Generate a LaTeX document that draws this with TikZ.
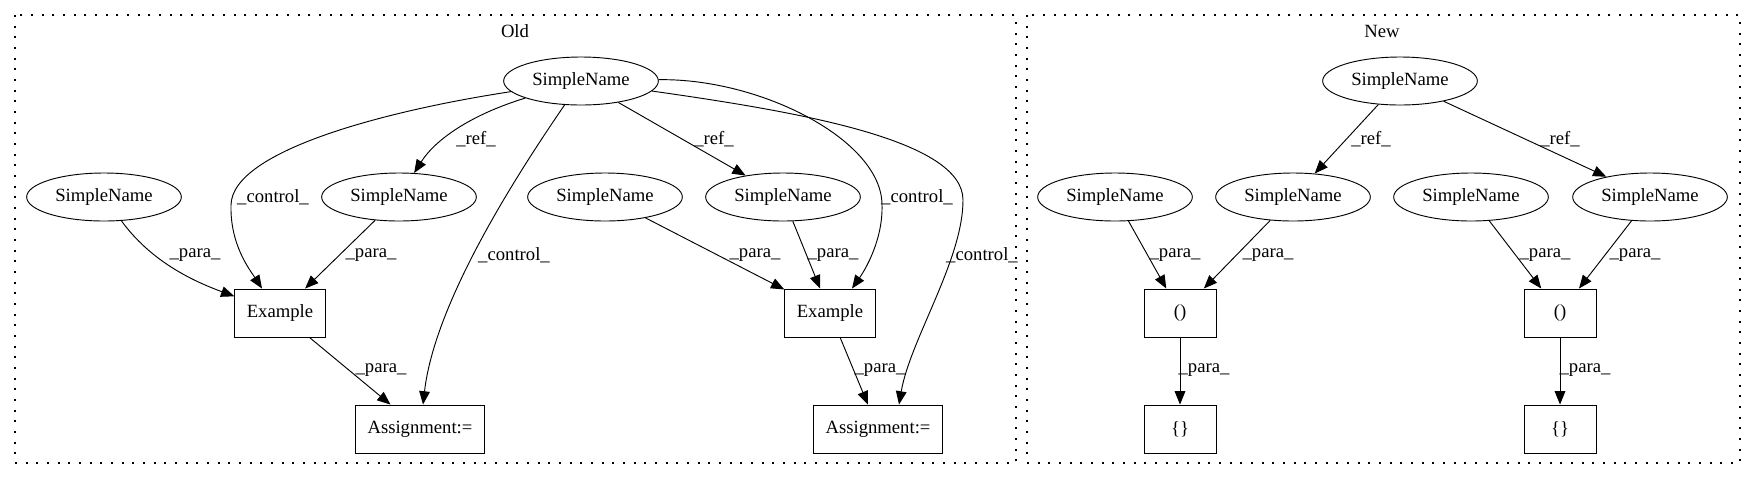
\documentclass[tikz,border=0pt]{standalone}
\usepackage{fontspec}
\setmainfont{Liberation Serif}
\usetikzlibrary{arrows.meta,calc,shapes.geometric}

\tikzset{
  sname/.style={draw, ellipse, minimum width=116pt, minimum height=36pt, inner sep=0pt, line width=0.7pt},
  stmt/.style={draw, rectangle, minimum width=54pt, minimum height=36pt, inner xsep=9pt, line width=0.7pt},
  flow/.style={-{Triangle[length=10pt,width=8pt]}, line width=0.7pt},
  lbl/.style={inner sep=0pt},
  cluster/.style={line width=1pt, dash pattern=on 1.5pt off 6.5pt}
}

\begin{document}
\begin{tikzpicture}[x=0.75pt, y=-0.75pt, font=\fontsize{14}{16}\selectfont]
    \useasboundingbox (0,0) rectangle (1755,480);
    \begin{scope}
	% old
	\draw[cluster] (15,15) rectangle (1016,463);
	\node (oldlbl) at (515,31) {Old};
	\node[sname] (otop) at (581,81) {SimpleName};
	\node[sname] (ol1) at (104,197) {SimpleName};
	\node[sname] (ol2) at (399,197) {SimpleName};
	\node[sname] (or1) at (605,197) {SimpleName};
	\node[sname] (or2) at (783,197) {SimpleName};
	\node[stmt] (ex1) at (280,313) {Example};
	\node[stmt] (ex2) at (830,313) {Example};
	\node[stmt] (as1) at (420,429) {Assignment:=};
	\node[stmt] (as2) at (878,429) {Assignment:=};
	\draw[flow] (otop) .. controls (390,110) and (232,150) .. (231,205) .. controls (230,245) and (250,270) .. ($(ex1.north)+(-18,0)$) node[lbl] at (273,197) {\_control\_};
	\draw[flow] (otop) .. controls (470,115) and (435,140) .. (ol2) node[lbl] at (476,139) {\_ref\_};
	\draw[flow] (otop) .. controls (520,170) and (435,300) .. ($(as1.north)+(3,0)$) node[lbl] at (514,255) {\_control\_};
	\draw[flow] (otop) -- (or2) node[lbl] at (714,139) {\_ref\_};
	\draw[flow] (otop) .. controls (760,78) and (882,140) .. (882,205) .. controls (883,240) and (865,270) .. ($(ex2.north)+(22,0)$) node[lbl] at (917,197) {\_control\_};
	\draw[flow] (otop) .. controls (800,112) and (963,140) .. (963,200) .. controls (963,260) and (910,340) .. ($(as2.north)+(21,0)$) node[lbl] at (982,255) {\_control\_};
	\draw[flow] (ol1) .. controls (150,260) and (190,280) .. (ex1) node[lbl] at (195,255) {\_para\_};
	\draw[flow] (ol2) -- (ex1) node[lbl] at (371,255) {\_para\_};
	\draw[flow] (or1) -- (ex2) node[lbl] at (755,255) {\_para\_};
	\draw[flow] (or2) -- (ex2) node[lbl] at (833,255) {\_para\_};
	\draw[flow] (ex1) -- (as1) node[lbl] at (381,370) {\_para\_};
	\draw[flow] (ex2) -- (as2) node[lbl] at (880,370) {\_para\_};
    \end{scope}
    \begin{scope}
	% new
	\draw[cluster] (1027,15) rectangle (1740,463);
	\node (newlbl) at (1382,31) {New};
	\node[sname] (ntop) at (1400,81) {SimpleName};
	\node[sname] (nl1) at (1115,197) {SimpleName};
	\node[sname] (nl2) at (1293,197) {SimpleName};
	\node[sname] (nr1) at (1471,197) {SimpleName};
	\node[sname] (nr2) at (1650,197) {SimpleName};
	\node[stmt] (par1) at (1180,313) {()};
	\node[stmt] (par2) at (1560,313) {()};
	\node[stmt] (br1) at (1180,429) {\{\}};
	\node[stmt] (br2) at (1560,429) {\{\}};
	\draw[flow] (ntop) -- (nl2) node[lbl] at (1371,139) {\_ref\_};
	\draw[flow] (ntop) -- (nr2) node[lbl] at (1560,139) {\_ref\_};
	\draw[flow] (nl1) -- (par1) node[lbl] at (1175,255) {\_para\_};
	\draw[flow] (nl2) -- (par1) node[lbl] at (1268,255) {\_para\_};
	\draw[flow] (nr1) -- (par2) node[lbl] at (1545,255) {\_para\_};
	\draw[flow] (nr2) -- (par2) node[lbl] at (1635,255) {\_para\_};
	\draw[flow] (par1) -- (br1) node[lbl] at (1204,370) {\_para\_};
	\draw[flow] (par2) -- (br2) node[lbl] at (1585,370) {\_para\_};
    \end{scope}
\end{tikzpicture}
\end{document}
